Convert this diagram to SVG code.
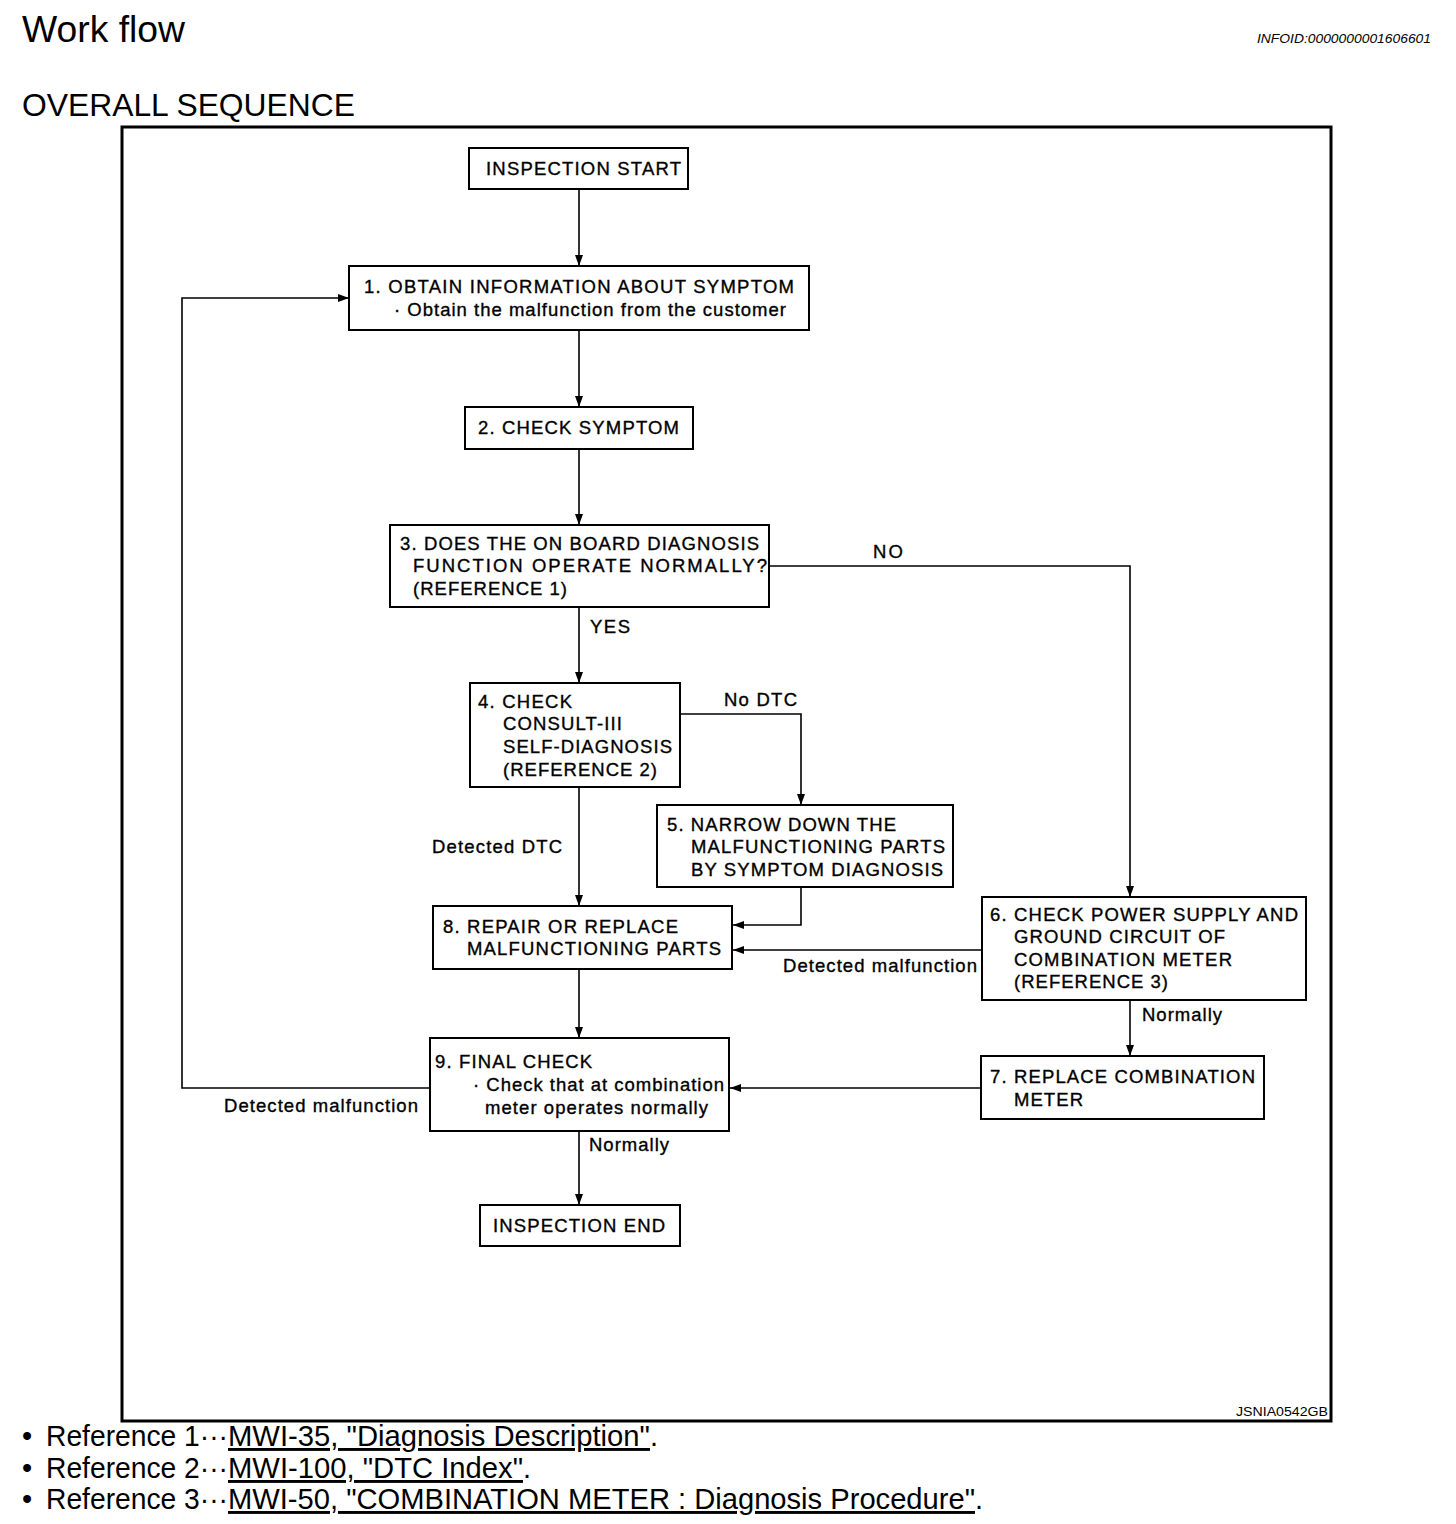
<svg xmlns="http://www.w3.org/2000/svg" width="1456" height="1524" viewBox="0 0 1456 1524">
<style>
.t{font-family:"Liberation Sans",Arial,sans-serif;font-size:18.5px;fill:#000;stroke:#000;stroke-width:0.35}
.box{fill:#fff;stroke:#000;stroke-width:2}
.ln{fill:none;stroke:#000;stroke-width:1.6}
.ref{font-family:"Liberation Sans",Arial,sans-serif;font-size:29px;fill:#000}
</style>
<defs>
<marker id="ah" markerUnits="userSpaceOnUse" markerWidth="12" markerHeight="10" refX="11" refY="4" orient="auto">
<path d="M0,0 L11,4 L0,8 z" fill="#000"/>
</marker>
</defs>
<rect width="1456" height="1524" fill="#fff"/>
<text x="22" y="42" font-family="Liberation Sans,Arial,sans-serif" font-size="37" textLength="163" lengthAdjust="spacingAndGlyphs">Work flow</text>
<text x="1257" y="43" font-family="Liberation Sans,Arial,sans-serif" font-size="13" font-style="italic" textLength="174" lengthAdjust="spacingAndGlyphs">INFOID:0000000001606601</text>
<text x="22" y="116" font-family="Liberation Sans,Arial,sans-serif" font-size="31" textLength="333" lengthAdjust="spacingAndGlyphs">OVERALL SEQUENCE</text>
<rect x="122" y="127" width="1209" height="1294" fill="none" stroke="#000" stroke-width="3"/>
<text x="1236" y="1416" font-family="Liberation Sans,Arial,sans-serif" font-size="12" textLength="92" lengthAdjust="spacingAndGlyphs">JSNIA0542GB</text>

<g id="connectors">
<line class="ln" x1="579" y1="189" x2="579" y2="266" marker-end="url(#ah)"/>
<line class="ln" x1="579" y1="330" x2="579" y2="407" marker-end="url(#ah)"/>
<line class="ln" x1="579" y1="449" x2="579" y2="525" marker-end="url(#ah)"/>
<line class="ln" x1="579" y1="607" x2="579" y2="683" marker-end="url(#ah)"/>
<polyline class="ln" points="769,566 1130,566 1130,897" marker-end="url(#ah)"/>
<polyline class="ln" points="680,714 801,714 801,805" marker-end="url(#ah)"/>
<line class="ln" x1="579" y1="787" x2="579" y2="906" marker-end="url(#ah)"/>
<polyline class="ln" points="801,887 801,925 733,925" marker-end="url(#ah)"/>
<line class="ln" x1="982" y1="950" x2="733" y2="950" marker-end="url(#ah)"/>
<line class="ln" x1="579" y1="969" x2="579" y2="1038" marker-end="url(#ah)"/>
<line class="ln" x1="1130" y1="1000" x2="1130" y2="1056" marker-end="url(#ah)"/>
<line class="ln" x1="981" y1="1088" x2="730" y2="1088" marker-end="url(#ah)"/>
<polyline class="ln" points="430,1088 182,1088 182,298 349,298" marker-end="url(#ah)"/>
<line class="ln" x1="579" y1="1131" x2="579" y2="1205" marker-end="url(#ah)"/>
<text class="t" x="590" y="633" textLength="40">YES</text>
<text class="t" x="873" y="558" textLength="30">NO</text>
<text class="t" x="724" y="706" textLength="73">No DTC</text>
<text class="t" x="432" y="853" textLength="130">Detected DTC</text>
<text class="t" x="783" y="972" textLength="194">Detected malfunction</text>
<text class="t" x="1142" y="1021" textLength="80">Normally</text>
<text class="t" x="224" y="1112" textLength="194">Detected malfunction</text>
<text class="t" x="589" y="1151" textLength="80">Normally</text>
</g>

<g id="start">
<rect class="box" x="469" y="148" width="219" height="41"/>
<text class="t" x="486" y="175" textLength="195">INSPECTION START</text>
</g>
<g id="n1">
<rect class="box" x="349" y="266" width="460" height="64"/>
<text class="t" x="364" y="293" textLength="430">1. OBTAIN INFORMATION ABOUT SYMPTOM</text>
<text class="t" x="394" y="316" textLength="392">· Obtain the malfunction from the customer</text>
</g>
<g id="n2">
<rect class="box" x="465" y="407" width="228" height="42"/>
<text class="t" x="478" y="434" textLength="201">2. CHECK SYMPTOM</text>
</g>
<g id="n3">
<rect class="box" x="390" y="525" width="379" height="82"/>
<text class="t" x="400" y="550" textLength="359">3. DOES THE ON BOARD DIAGNOSIS</text>
<text class="t" x="413" y="572" textLength="354">FUNCTION OPERATE NORMALLY?</text>
<text class="t" x="413" y="595" textLength="154">(REFERENCE 1)</text>
</g>
<g id="n4">
<rect class="box" x="470" y="683" width="210" height="104"/>
<text class="t" x="478" y="708" textLength="94">4. CHECK</text>
<text class="t" x="503" y="730" textLength="119">CONSULT-III</text>
<text class="t" x="503" y="753" textLength="169">SELF-DIAGNOSIS</text>
<text class="t" x="503" y="776" textLength="154">(REFERENCE 2)</text>
</g>
<g id="n5">
<rect class="box" x="657" y="805" width="296" height="82"/>
<text class="t" x="667" y="831" textLength="229">5. NARROW DOWN THE</text>
<text class="t" x="691" y="853" textLength="254">MALFUNCTIONING PARTS</text>
<text class="t" x="691" y="876" textLength="252">BY SYMPTOM DIAGNOSIS</text>
</g>
<g id="n8">
<rect class="box" x="433" y="906" width="299" height="63"/>
<text class="t" x="443" y="933" textLength="235">8. REPAIR OR REPLACE</text>
<text class="t" x="467" y="955" textLength="254">MALFUNCTIONING PARTS</text>
</g>
<g id="n6">
<rect class="box" x="982" y="897" width="324" height="103"/>
<text class="t" x="990" y="921" textLength="308">6. CHECK POWER SUPPLY AND</text>
<text class="t" x="1014" y="943" textLength="211">GROUND CIRCUIT OF</text>
<text class="t" x="1014" y="966" textLength="218">COMBINATION METER</text>
<text class="t" x="1014" y="988" textLength="154">(REFERENCE 3)</text>
</g>
<g id="n7">
<rect class="box" x="981" y="1056" width="283" height="63"/>
<text class="t" x="990" y="1083" textLength="265">7. REPLACE COMBINATION</text>
<text class="t" x="1014" y="1106" textLength="69">METER</text>
</g>
<g id="n9">
<rect class="box" x="430" y="1038" width="299" height="93"/>
<text class="t" x="435" y="1068" textLength="157">9. FINAL CHECK</text>
<text class="t" x="473" y="1091" textLength="251">· Check that at combination</text>
<text class="t" x="485" y="1114" textLength="223">meter operates normally</text>
</g>
<g id="end">
<rect class="box" x="480" y="1205" width="200" height="41"/>
<text class="t" x="493" y="1232" textLength="172">INSPECTION END</text>
</g>

<g id="references">
<text class="ref" x="22" y="1446">•</text>
<text class="ref" x="46" y="1446" textLength="182" lengthAdjust="spacingAndGlyphs">Reference 1···</text>
<text class="ref" x="228" y="1446" textLength="422" lengthAdjust="spacingAndGlyphs" text-decoration="underline">MWI-35, "Diagnosis Description"</text>
<text class="ref" x="650" y="1446">.</text>
<text class="ref" x="22" y="1478">•</text>
<text class="ref" x="46" y="1478" textLength="182" lengthAdjust="spacingAndGlyphs">Reference 2···</text>
<text class="ref" x="228" y="1478" textLength="295" lengthAdjust="spacingAndGlyphs" text-decoration="underline">MWI-100, "DTC Index"</text>
<text class="ref" x="523" y="1478">.</text>
<text class="ref" x="22" y="1509">•</text>
<text class="ref" x="46" y="1509" textLength="182" lengthAdjust="spacingAndGlyphs">Reference 3···</text>
<text class="ref" x="228" y="1509" textLength="747" lengthAdjust="spacingAndGlyphs" text-decoration="underline">MWI-50, "COMBINATION METER : Diagnosis Procedure"</text>
<text class="ref" x="975" y="1509">.</text>
</g>
</svg>
